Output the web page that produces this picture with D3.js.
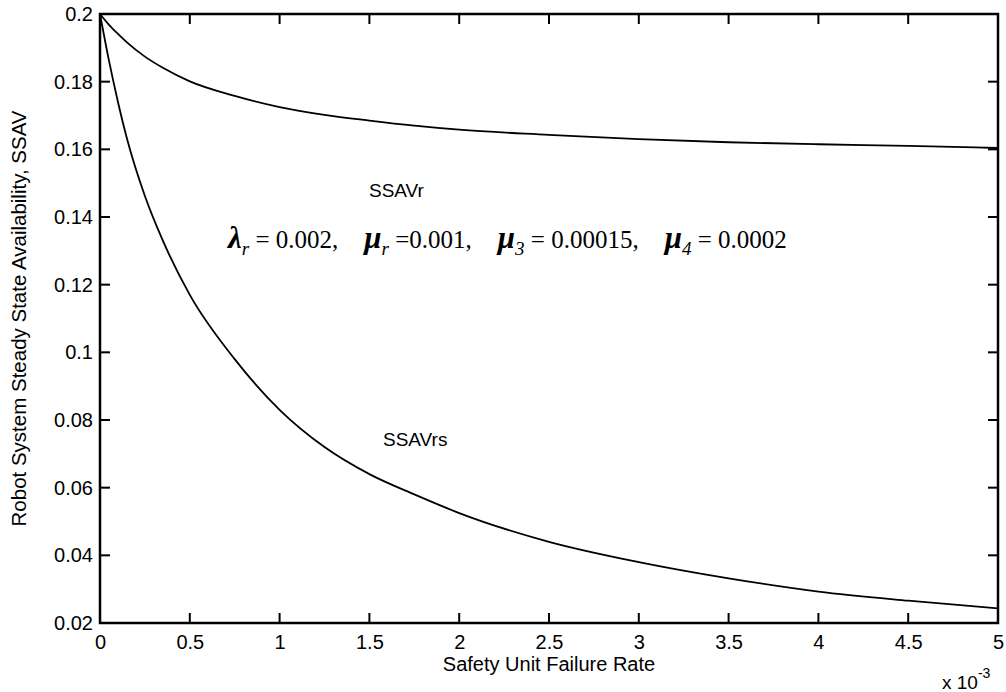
<!DOCTYPE html>
<html>
<head>
<meta charset="utf-8">
<script src="https://cdn.jsdelivr.net/npm/d3@7"></script>
<style>
  body { margin: 0; background: #fff; }
  text { font-family: Arial, "Liberation Sans", sans-serif; }
</style>
</head>
<body>
<div class="canvas"></div>
<script>
// failure rate in units of 1e-3
const rate = [0, 0.05, 0.1, 0.15, 0.25, 0.35, 0.5, 0.75, 1, 1.25, 1.5, 1.75, 2, 2.5, 3, 3.5, 4, 4.5, 5];
const ssavR = [0.2, 0.1968, 0.1941, 0.1916, 0.1874, 0.1841, 0.1801, 0.1758, 0.1725, 0.1702, 0.1685, 0.1670, 0.1658, 0.1643, 0.1630, 0.1621, 0.1615, 0.1610, 0.1604];
const ssavRS = [0.2, 0.1862, 0.1740, 0.1632, 0.1462, 0.1330, 0.117, 0.098, 0.083, 0.072, 0.064, 0.058, 0.0525, 0.044, 0.038, 0.0332, 0.0293, 0.0266, 0.0243];
const xTicks = [0, 0.5, 1, 1.5, 2, 2.5, 3, 3.5, 4, 4.5, 5];
const yTicks = [0.02, 0.04, 0.06, 0.08, 0.1, 0.12, 0.14, 0.16, 0.18, 0.2];

const width = 1006, height = 692;
const margin = { top: 14, right: 8, bottom: 69, left: 100 };

const svg = d3.select('.canvas')
  .append('svg')
  .attr('width', width)
  .attr('height', height);

const x = d3.scaleLinear().domain([0, 5]).range([margin.left, width - margin.right]);
const y = d3.scaleLinear().domain([0.02, 0.2]).range([height - margin.bottom, margin.top]);

const tickLen = 10;
const fmt = d => String(d);

// axes give the labels only
const gx = svg.append('g')
  .attr('transform', `translate(0, ${y(0.02)})`)
  .call(d3.axisBottom(x).tickValues(xTicks).tickFormat(fmt).tickSize(0).tickPadding(12));
const gy = svg.append('g')
  .attr('transform', `translate(${x(0)}, 0)`)
  .call(d3.axisLeft(y).tickValues(yTicks).tickFormat(fmt).tickSize(0).tickPadding(7));

[gx, gy].forEach(g => {
  g.select('.domain').remove();
  g.selectAll('.tick text').attr('fill', '#000')
    .style('font-size', '20px')
    .style('font-family', 'Arial, "Liberation Sans", sans-serif');
});

// box
svg.append('rect')
  .attr('x', x(0)).attr('y', y(0.2))
  .attr('width', x(5) - x(0)).attr('height', y(0.02) - y(0.2))
  .attr('fill', 'none').attr('stroke', '#000').attr('stroke-width', 2.5);

// inward tick marks on all four sides
xTicks.forEach(t => {
  svg.append('rect').attr('fill', '#000').attr('x', x(t) - 1).attr('y', y(0.02) - tickLen).attr('width', 2).attr('height', tickLen);
  svg.append('rect').attr('fill', '#000').attr('x', x(t) - 1).attr('y', y(0.2)).attr('width', 2).attr('height', tickLen);
});
yTicks.forEach(t => {
  svg.append('rect').attr('fill', '#000').attr('x', x(0)).attr('y', y(t) - 1).attr('width', tickLen).attr('height', 2);
  svg.append('rect').attr('fill', '#000').attr('x', x(5) - tickLen).attr('y', y(t) - 1).attr('width', tickLen).attr('height', 2);
});

const line = d3.line()
  .x((d, i) => x(rate[i]))
  .y(d => y(d))
  .curve(d3.curveMonotoneX);

[ssavR, ssavRS].forEach(s => {
  svg.append('path')
    .attr('d', line(s))
    .attr('fill', 'none')
    .attr('stroke', '#000')
    .attr('stroke-width', 1.8);
});

// curve labels
svg.append('text').attr('x', 369).attr('y', 197).style('font-size', '19px').text('SSAVr');
svg.append('text').attr('x', 383).attr('y', 446).style('font-size', '19px').text('SSAVrs');

// parameter text
const par = svg.append('text')
  .attr('x', 228).attr('y', 248)
  .style('font-family', '"Liberation Serif", "Times New Roman", serif')
  .style('font-size', '25px');
const parts = [
  ['λ', 'g', 0], ['r', 's'], [' = 0.002,', 'n'],
  ['μ', 'g', 26], ['r', 's'], [' =0.001,', 'n'],
  ['μ', 'g', 26], ['3', 's'], [' = 0.00015,', 'n'],
  ['μ', 'g', 26], ['4', 's'], [' = 0.0002', 'n']
];
let shifted = false;
parts.forEach(([t, k, gap]) => {
  const ts = par.append('tspan').text(t);
  if (k === 'g') {
    ts.style('font-style', 'italic').style('font-weight', 'bold').style('font-size', '31px').attr('dx', gap);
    if (shifted) { ts.attr('dy', -7); shifted = false; }
  } else if (k === 's') {
    ts.style('font-style', 'italic').style('font-size', '19px').attr('dy', 7);
    shifted = true;
  } else {
    ts.attr('dy', -7);
    shifted = false;
  }
});

// axis titles
svg.append('text')
  .attr('x', x(2.5)).attr('y', 671)
  .attr('text-anchor', 'middle')
  .style('font-size', '20px')
  .text('Safety Unit Failure Rate');

svg.append('text')
  .attr('transform', `translate(26, ${(y(0.02) + y(0.2)) / 2}) rotate(-90)`)
  .attr('text-anchor', 'middle')
  .style('font-size', '20.5px')
  .text('Robot System Steady State Availability, SSAV');

const ex = svg.append('text').attr('x', 942).attr('y', 689).style('font-size', '19px');
ex.append('tspan').text('x 10');
ex.append('tspan').attr('dy', -11).style('font-size', '14px').text('-3');
</script>
</body>
</html>
